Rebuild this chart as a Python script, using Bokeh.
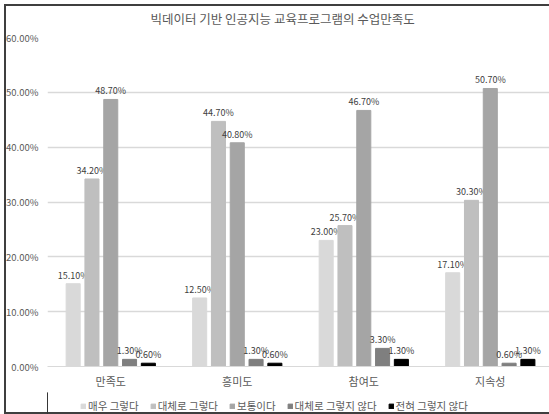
from bokeh.plotting import figure
from bokeh.layouts import column
from bokeh.models import ColumnDataSource, FixedTicker, PrintfTickFormatter, Legend, LegendItem, Range1d
from bokeh.core.properties import value
from bokeh.embed import file_html
from bokeh.resources import INLINE

categories = ["만족도", "흥미도", "참여도", "지속성"]
series_names = ["매우 그렇다", "대체로 그렇다", "보통이다", "대체로 그렇지 않다", "전혀 그렇지 않다"]
very_yes = [15.1, 12.5, 23.0, 17.1]
mostly_yes = [34.2, 44.7, 25.7, 30.3]
neutral = [48.7, 40.8, 46.7, 50.7]
mostly_no = [1.3, 1.3, 3.3, 0.6]
never = [0.6, 0.6, 1.3, 1.3]
series_values = [very_yes, mostly_yes, neutral, mostly_no, never]
colors = ["#d9d9d9", "#bfbfbf", "#a5a5a5", "#7f7f7f", "#000000"]
y_ticks = [0, 10, 20, 30, 40, 50, 60]

KR = "Noto Sans CJK KR"
GRAY = "#595959"

p = figure(width=549, height=392, output_backend="svg", toolbar_location=None,
           x_range=Range1d(0, 3.968), y_range=Range1d(0, 60),
           min_border_left=47, min_border_right=0, min_border_top=36, min_border_bottom=26,
           title="빅데이터 기반 인공지능 교육프로그램의 수업만족도")
p.outline_line_color = None
p.border_fill_color = None
p.background_fill_color = None

p.title.text_font = KR
p.title.text_font_size = "12.5px"
p.title.text_font_style = "normal"
p.title.text_color = GRAY
p.title.align = "left"
p.title.offset = 103
p.title.vertical_align = "top"
p.title.standoff = 16

pitch = 0.1486
bw = 0.111
for k, (name, vals, col) in enumerate(zip(series_names, series_values, colors)):
    xs = [i + 0.5 + (k - 2) * pitch for i in range(len(categories))]
    src = ColumnDataSource(dict(x=xs, top=vals, lbl=[f"{v:.2f}%" for v in vals]))
    p.vbar(x="x", top="top", width=bw, color=col, source=src)
    p.text(x="x", y="top", text="lbl", source=src, text_align="center", text_baseline="bottom",
           y_offset=-2, text_font=value(KR), text_font_size="9px", text_color="#404040")

p.yaxis.ticker = FixedTicker(ticks=y_ticks)
p.yaxis.formatter = PrintfTickFormatter(format="%.2f%%")
p.yaxis.axis_line_color = None
p.yaxis.major_tick_line_color = None
p.yaxis.minor_tick_line_color = None
p.yaxis.major_tick_out = 0
p.yaxis.major_tick_in = 0
p.yaxis.minor_tick_out = 0
p.yaxis.major_label_text_font = KR
p.yaxis.major_label_text_font_size = "9.5px"
p.yaxis.major_label_text_color = GRAY
p.yaxis.major_label_standoff = 9

p.xaxis.ticker = FixedTicker(ticks=[i + 0.5 for i in range(len(categories))])
p.xaxis.major_label_overrides = {i + 0.5: c for i, c in enumerate(categories)}
p.xaxis.axis_line_color = "#d9d9d9"
p.xaxis.major_tick_line_color = None
p.xaxis.minor_tick_line_color = None
p.xaxis.major_tick_out = 0
p.xaxis.major_tick_in = 0
p.xaxis.major_label_text_font = KR
p.xaxis.major_label_text_font_size = "11px"
p.xaxis.major_label_text_color = GRAY
p.xaxis.major_label_standoff = 6

p.xgrid.grid_line_color = None
p.ygrid.grid_line_color = "#d9d9d9"
p.ygrid.grid_line_width = 1.5

# legend strip below the chart (proxy bars sit outside the visible range)
lg = figure(width=549, height=22, output_backend="svg", toolbar_location=None,
            x_range=Range1d(0, 1), y_range=Range1d(0, 1),
            x_axis_location=None, y_axis_location=None,
            min_border_left=0, min_border_right=0, min_border_top=0, min_border_bottom=0)
lg.outline_line_color = None
lg.border_fill_color = None
lg.background_fill_color = None
lg.xgrid.grid_line_color = None
lg.ygrid.grid_line_color = None
items = []
for name, col in zip(series_names, colors):
    r = lg.vbar(x=[-5], top=[1], width=0.1, color=col)
    items.append(LegendItem(label=name, renderers=[r]))
legend = Legend(items=items, orientation="horizontal", location=(33, 1),
                label_text_font=KR, label_text_font_size="10.5px", label_text_color=GRAY,
                glyph_width=6, glyph_height=6, label_standoff=2, spacing=11,
                padding=2, margin=0, label_height=13, border_line_color=None,
                background_fill_alpha=0)
lg.add_layout(legend)

layout = column(p, lg, spacing=0)
layout.styles = {"box-shadow": "inset 4px 4px 0 0 white, inset 6px 6px 0 0 #3f3f3f, inset 0 -2px 0 0 #3f3f3f"}

open("out.html", "w").write(file_html(layout, INLINE))
